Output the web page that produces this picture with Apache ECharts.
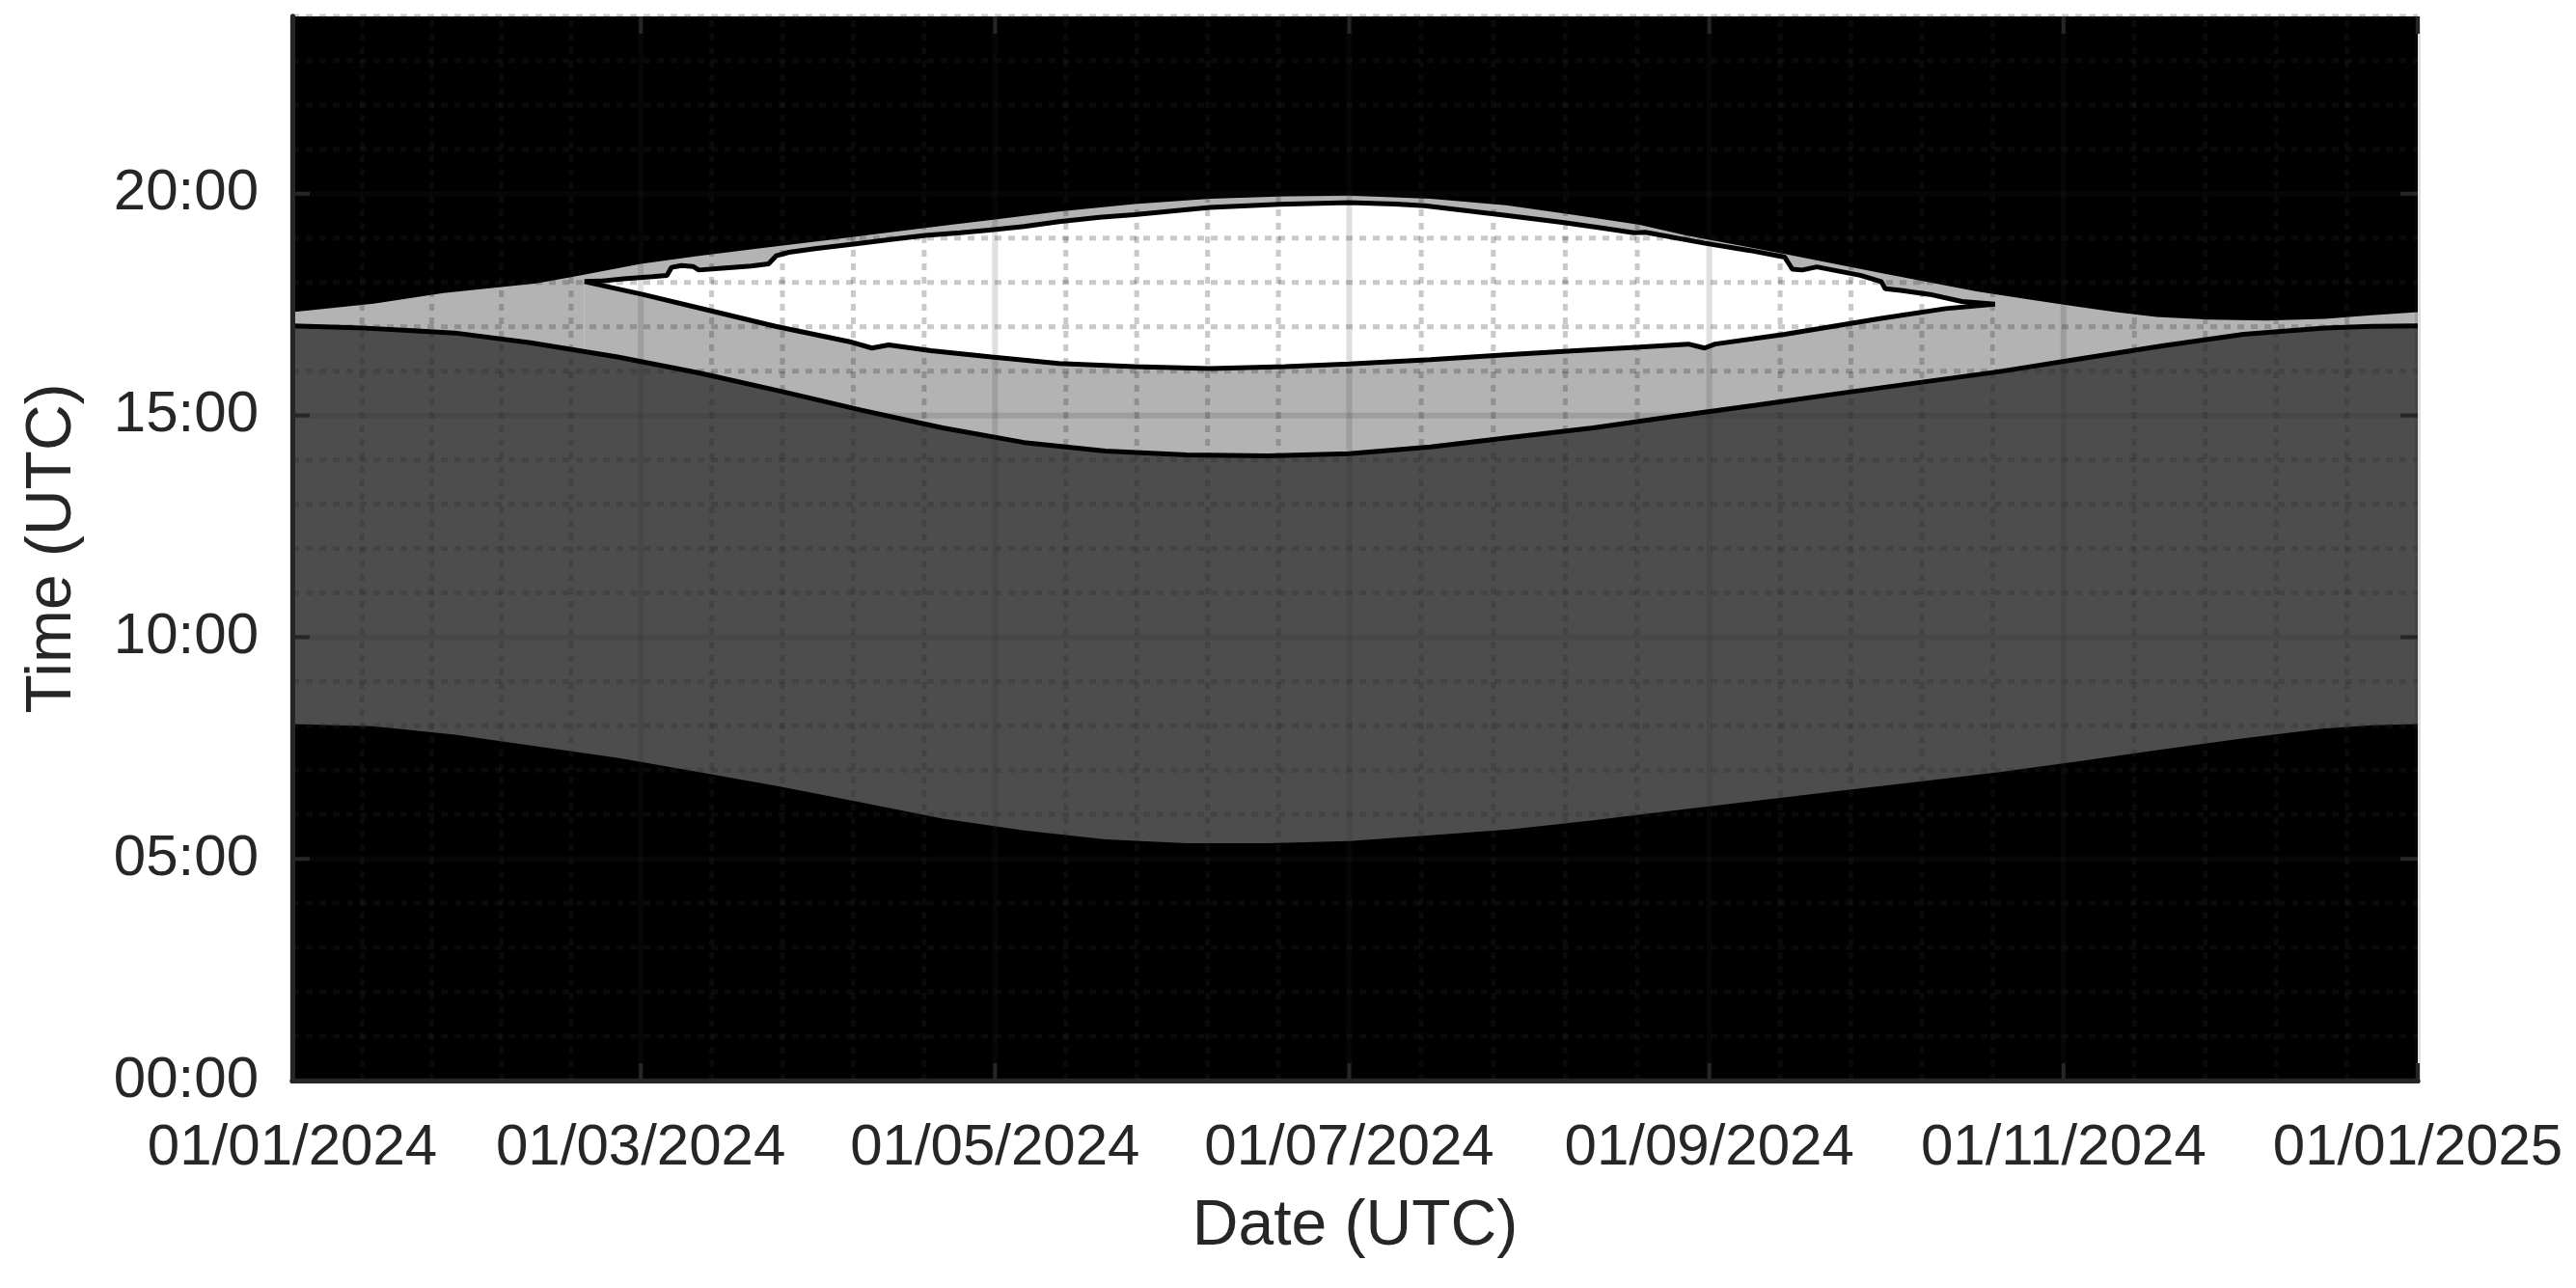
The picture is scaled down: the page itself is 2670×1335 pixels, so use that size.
<!DOCTYPE html>
<html>
<head>
<meta charset="utf-8">
<script src="https://cdn.jsdelivr.net/npm/echarts@6/dist/echarts.min.js"></script>
<style>
html, body { margin: 0; padding: 0; background: #fff; }
#chart { width: 2670px; height: 1335px; }
</style>
</head>
<body>
<div id="chart"></div>
<script>
// x = day of year counted from 01/01/2024, y = time of day in hours (UTC)

// ticks
var tickDays = [0, 60, 121, 182, 244, 305, 366];
var tickLabels = ['01/01/2024', '01/03/2024', '01/05/2024', '01/07/2024', '01/09/2024', '01/11/2024', '01/01/2025'];
var tickHours = [0, 5, 10, 15, 20];

// lower edge of dark grey band
var lowerDays = [0, 14, 28, 42, 56, 70, 84, 98, 112, 126, 140, 154, 168, 182, 196, 210, 224, 238, 252, 266, 280, 294, 308, 322, 336, 350, 358, 366];
var lowerHours = [8.04, 7.99, 7.80, 7.54, 7.28, 6.96, 6.63, 6.27, 5.91, 5.64, 5.44, 5.35, 5.35, 5.40, 5.53, 5.67, 5.87, 6.09, 6.31, 6.53, 6.74, 6.96, 7.21, 7.47, 7.72, 7.94, 8.01, 8.04];

// upper edge of dark grey band (black line)
var darkDays = [0, 11, 20, 28, 41, 56, 70, 84, 98, 107, 112, 126, 140, 154, 168, 182, 196, 210, 224, 238, 252, 266, 280, 294, 308, 322, 336, 350, 358, 366];
var darkHours = [17.02, 16.98, 16.92, 16.86, 16.64, 16.32, 15.96, 15.55, 15.12, 14.86, 14.72, 14.39, 14.20, 14.11, 14.09, 14.14, 14.29, 14.51, 14.72, 14.98, 15.23, 15.49, 15.74, 15.99, 16.28, 16.57, 16.83, 16.97, 17.01, 17.02];

// upper edge of light grey band
var lightDays = [0, 14, 26, 42, 48, 60, 70, 80, 92, 104, 112, 121, 132, 145, 158, 171, 182, 196, 209, 221, 232, 240, 257, 274, 290, 300, 307, 314, 321, 330, 340, 350, 358, 366];
var lightHours = [17.33, 17.52, 17.76, 17.98, 18.12, 18.42, 18.60, 18.76, 18.95, 19.15, 19.28, 19.42, 19.60, 19.77, 19.89, 19.94, 19.96, 19.89, 19.74, 19.52, 19.30, 19.06, 18.64, 18.20, 17.80, 17.60, 17.46, 17.33, 17.22, 17.16, 17.14, 17.18, 17.26, 17.33];

// white region, top edge (left to right)
var whiteTopDays = [50.3, 53, 57, 62, 64.5, 65.3, 67, 69, 70, 74, 79, 82, 83.3, 85.5, 90, 97, 103, 109, 115, 120, 126, 132, 139, 145, 158, 170, 182, 190, 195, 209, 219, 226, 231, 233, 243, 251, 257, 258.3, 260, 262.5, 270, 273.6, 274.3, 277, 282, 287.5, 293.2];
var whiteTopHours = [18.02, 18.03, 18.08, 18.13, 18.16, 18.34, 18.38, 18.36, 18.28, 18.32, 18.37, 18.42, 18.60, 18.68, 18.76, 18.87, 18.97, 19.06, 19.12, 19.18, 19.26, 19.37, 19.47, 19.53, 19.69, 19.76, 19.80, 19.77, 19.73, 19.51, 19.35, 19.22, 19.12, 19.13, 18.89, 18.72, 18.57, 18.30, 18.28, 18.35, 18.16, 18.02, 17.86, 17.82, 17.73, 17.57, 17.51];

// white region, bottom edge (left to right)
var whiteBotDays = [50.3, 60.3, 71.8, 83.2, 96.4, 99.8, 102.7, 110, 120.4, 132, 145, 158, 171, 182, 196, 209, 221, 232, 240.4, 243.2, 245, 257, 273.6, 284.7, 293.2];
var whiteBotHours = [18.02, 17.73, 17.37, 17.01, 16.65, 16.52, 16.59, 16.46, 16.32, 16.17, 16.10, 16.06, 16.10, 16.16, 16.26, 16.37, 16.46, 16.54, 16.61, 16.52, 16.61, 16.83, 17.19, 17.41, 17.51];

var FONT = "'Liberation Sans', Arial, Helvetica, sans-serif";
var AXIS = '#262626';
var TICK_LEN = 18;

function pairs(xs, ys) {
	return xs.map(function (x, i) { return [x, ys[i]]; });
}

// grid lines: majors at ticks, 5 minor steps between majors
var vGrid = [];
for (var i = 0; i < tickDays.length; i++) {
	vGrid.push([tickDays[i], 1]);
	if (i < tickDays.length - 1) {
		for (var k = 1; k < 5; k++) {
			vGrid.push([tickDays[i] + (tickDays[i + 1] - tickDays[i]) * k / 5, 0]);
		}
	}
}
var hGrid = [];
for (var h = 0; h <= 24; h++) {
	hGrid.push([0, h, h % 5 === 0 ? 1 : 0]);
}

var majorStyle = { stroke: 'rgba(38,38,38,0.15)', lineWidth: 6 };
var minorStyle = { stroke: 'rgba(38,38,38,0.25)', lineWidth: 5, lineDash: [7, 7] };
var tickStyle = { stroke: AXIS, lineWidth: 4 };

function areaSeries(xs, ys, color, z) {
	return {
		type: 'line', data: pairs(xs, ys), symbol: 'none', z: z, silent: true,
		lineStyle: { width: 0 },
		areaStyle: { color: color, opacity: 1, origin: 'start' }
	};
}
function outlineSeries(data, z) {
	return {
		type: 'line', data: data, symbol: 'none', z: z, silent: true,
		lineStyle: { color: '#000', width: 5 }
	};
}

// inner tick marks on all four sides of the box
var tickMarks = {
	type: 'custom', z: 8, silent: true,
	data: tickDays.map(function (d) { return [d, 0, 0]; })
		.concat(tickHours.map(function (hv) { return [0, hv, 1]; })),
	renderItem: function (params, api) {
		var lines = [];
		if (api.value(2) === 0) {
			var d = api.value(0);
			var b = api.coord([d, 0]), t = api.coord([d, 24]);
			lines.push([b[0], b[1], b[0], b[1] - TICK_LEN], [t[0], t[1], t[0], t[1] + TICK_LEN]);
		} else {
			var hv = api.value(1);
			var l = api.coord([0, hv]), r = api.coord([366, hv]);
			lines.push([l[0], l[1], l[0] + TICK_LEN, l[1]], [r[0], r[1], r[0] - TICK_LEN, r[1]]);
		}
		return {
			type: 'group',
			children: lines.map(function (s) {
				return { type: 'line', shape: { x1: s[0], y1: s[1], x2: s[2], y2: s[3] }, style: tickStyle };
			})
		};
	}
};

function boxAxis(max, pos) {
	return {
		type: 'value', min: 0, max: max, position: pos, z: 20,
		axisLine: { show: true, lineStyle: { color: AXIS, width: 5 } },
		axisTick: { show: false },
		axisLabel: { show: false },
		splitLine: { show: false }
	};
}

var whiteOutline = pairs(whiteTopDays, whiteTopHours).concat(pairs(whiteBotDays, whiteBotHours).reverse());

var xBottom = boxAxis(366, 'bottom');
xBottom.name = 'Date (UTC)';
xBottom.nameLocation = 'middle';
xBottom.nameGap = 119;
xBottom.nameTextStyle = { fontFamily: FONT, fontSize: 66, color: AXIS };
xBottom.axisLabel = {
	show: true, customValues: tickDays, margin: 40,
	fontFamily: FONT, fontSize: 60, color: AXIS,
	formatter: function (v) { return tickLabels[tickDays.indexOf(v)]; }
};

var yLeft = boxAxis(24, 'left');
yLeft.name = 'Time (UTC)';
yLeft.nameLocation = 'middle';
yLeft.nameGap = 215;
yLeft.nameTextStyle = { fontFamily: FONT, fontSize: 66, color: AXIS };
yLeft.axisLabel = {
	show: true, customValues: tickHours, margin: 35,
	fontFamily: FONT, fontSize: 60, color: AXIS,
	formatter: function (v) { return (v < 10 ? '0' : '') + v + ':00'; }
};

var myChart = echarts.init(document.getElementById('chart'));
var option = {
	animation: false,
	backgroundColor: '#fff',
	grid: {
		left: 303, right: 164, top: 17, bottom: 215,
		show: true, backgroundColor: '#000', borderWidth: 0
	},
	xAxis: [xBottom, boxAxis(366, 'top')],
	yAxis: [yLeft, boxAxis(24, 'right')],
	series: [
		areaSeries(lightDays, lightHours, '#b3b3b3', 1),
		areaSeries(whiteTopDays, whiteTopHours, '#ffffff', 2),
		areaSeries(whiteBotDays, whiteBotHours, '#b3b3b3', 3),
		areaSeries(darkDays, darkHours, '#4d4d4d', 4),
		areaSeries(lowerDays, lowerHours, '#000000', 5),
		{
			type: 'custom', data: vGrid, z: 6, silent: true,
			renderItem: function (params, api) {
				var d = api.value(0);
				var a = api.coord([d, 0]), b = api.coord([d, 24]);
				return {
					type: 'line',
					shape: { x1: a[0], y1: a[1], x2: b[0], y2: b[1] },
					style: api.value(1) ? majorStyle : minorStyle
				};
			}
		},
		{
			type: 'custom', data: hGrid, z: 6, silent: true,
			renderItem: function (params, api) {
				var hv = api.value(1);
				var a = api.coord([0, hv]), b = api.coord([366, hv]);
				return {
					type: 'line',
					shape: { x1: a[0], y1: a[1], x2: b[0], y2: b[1] },
					style: api.value(2) ? majorStyle : minorStyle
				};
			}
		},
		outlineSeries(pairs(darkDays, darkHours), 7),
		outlineSeries(whiteOutline, 7),
		tickMarks
	]
};
myChart.setOption(option);
</script>
</body>
</html>
